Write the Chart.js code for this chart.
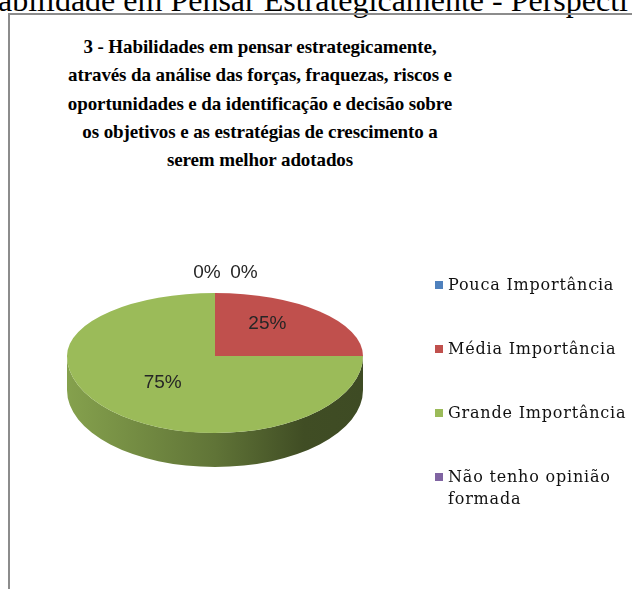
<!DOCTYPE html>
<html lang="pt">
<head>
<meta charset="UTF-8">
<title>Habilidades em pensar estrategicamente</title>
<style>
  html, body { margin: 0; padding: 0; background: #fff; }
  body { width: 632px; height: 589px; overflow: hidden; position: relative; }
  .heading {
    position: absolute; left: -2px; top: -16px; white-space: nowrap;
    font: 32px/32px "Liberation Serif", serif; color: #000;
  }
  .frame {
    position: absolute; left: 8px; top: 13px; width: 700px; height: 700px;
    border-left: 2px solid #8c8c8c; border-top: 2px solid #8c8c8c;
  }
  .title {
    position: absolute; left: 40px; width: 440px; top: 33px; text-align: center;
    font: bold 19px/28.35px "Liberation Serif", serif; color: #000;
    letter-spacing: -0.1px;
  }
  #myChart { position: absolute; left: 0; top: 0; }
  .legend { position: absolute; left: 435px; top: 274px; }
  .legend .item { display: flex; align-items: flex-start; margin-bottom: 42px; }
  .legend .box { width: 8px; height: 8px; margin: 7px 5px 0 0; flex: none; }
  .legend .text {
    font: 16px/22px "DejaVu Serif", serif; color: #111; width: 188px;
    letter-spacing: 0.8px;
  }
</style>
</head>
<body>
<div class="heading">abilidade em Pensar Estrategicamente - Perspecti</div>
<div class="frame"></div>
<div class="title" id="title"></div>
<canvas id="myChart" width="632" height="589"></canvas>
<div class="legend" id="legend"></div>

<script src="https://cdn.jsdelivr.net/npm/chart.js"></script>
<script>
// data
const titleLines = [
  '3 - Habilidades em pensar estrategicamente,',
  'através da análise das forças, fraquezas, riscos e',
  'oportunidades e da identificação e decisão sobre',
  'os objetivos e as estratégias de crescimento a',
  'serem melhor adotados'
];
const categories = ['Pouca Importância', 'Média Importância', 'Grande Importância', 'Não tenho opinião formada'];
const values = [0, 25, 75, 0];
const colors = ['#4F81BD', '#C0504D', '#9BBB59', '#8064A2'];

// 3d look
const TILT_TOP = 63 / 148;
const TILT_BOTTOM = 77 / 148;
const DEPTH = 34;

document.getElementById('title').innerHTML = titleLines.join('<br>');

const legend = document.getElementById('legend');
categories.forEach((c, i) => {
  const item = document.createElement('div');
  item.className = 'item';
  item.innerHTML = '<span class="box" style="background:' + colors[i] + '"></span><span class="text">' + c + '</span>';
  legend.appendChild(item);
});

function shade(hex, f) {
  const n = parseInt(hex.slice(1), 16);
  const r = Math.round(((n >> 16) & 255) * f);
  const g = Math.round(((n >> 8) & 255) * f);
  const b = Math.round((n & 255) * f);
  return 'rgb(' + r + ',' + g + ',' + b + ')';
}

const pie3d = {
  id: 'pie3d',
  beforeDatasetsDraw(chart) {
    const ctx = chart.ctx;
    const arcs = chart.getDatasetMeta(0).data;
    const {x: cx, y: cy, outerRadius: r} = arcs[0].getProps(['x', 'y', 'outerRadius'], true);
    const ryBot = r * TILT_BOTTOM;

    // side wall, front half only
    arcs.forEach((arc, i) => {
      const {startAngle, endAngle} = arc.getProps(['startAngle', 'endAngle'], true);
      const base = colors[i];
      for (const k of [-1, 0, 1]) {
        const off = 2 * Math.PI * k;
        const a0 = Math.max(startAngle, off);
        const a1 = Math.min(endAngle, Math.PI + off);
        if (a1 <= a0) continue;
        const g = ctx.createLinearGradient(cx - r, 0, cx + r, 0);
        g.addColorStop(0, shade(base, 0.86));
        g.addColorStop(0.5, shade(base, 0.62));
        g.addColorStop(0.8, shade(base, 0.41));
        g.addColorStop(1, shade(base, 0.40));
        ctx.save();
        ctx.fillStyle = g;
        ctx.beginPath();
        ctx.ellipse(cx, cy, r, ryBot, 0, a0 - off, a1 - off);
        ctx.ellipse(cx, cy + DEPTH, r, ryBot, 0, a1 - off, a0 - off, true);
        ctx.closePath();
        ctx.fill();
        ctx.restore();
      }
    });

    // top face, squashed; back half flatter than front half
    [[0, cy + 0.5, TILT_TOP], [cy, chart.height, TILT_BOTTOM]].forEach(([y0, y1, s]) => {
      ctx.save();
      ctx.beginPath();
      ctx.rect(0, y0, chart.width, y1 - y0);
      ctx.clip();
      ctx.translate(cx, cy);
      ctx.scale(1, s);
      ctx.translate(-cx, -cy);
      arcs.forEach(a => a.draw(ctx));
      ctx.restore();
    });

    // percentage labels
    const total = values.reduce((a, b) => a + b, 0);
    ctx.save();
    ctx.font = '19px "Liberation Sans", sans-serif';
    ctx.fillStyle = '#262626';
    ctx.textAlign = 'center';
    ctx.textBaseline = 'middle';
    let zeros = 0;
    arcs.forEach((arc, i) => {
      const txt = Math.round(values[i] / total * 100) + '%';
      if (values[i] > 0) {
        const p = arc.tooltipPosition(true);
        const dy = p.y - cy;
        const y = dy < 0 ? cy + dy * TILT_TOP * 1.45 : cy + dy * TILT_BOTTOM;
        ctx.fillText(txt, p.x, y);
      } else {
        const a = arc.getProps(['startAngle'], true).startAngle;
        const px = cx + r * Math.cos(a);
        const py = cy + r * Math.sin(a) * (Math.sin(a) < 0 ? TILT_TOP : TILT_BOTTOM);
        ctx.fillText(txt, px + (zeros === 0 ? -8 : 29), py - 20);
        zeros++;
      }
    });
    ctx.restore();
    return false;
  }
};

new Chart(document.getElementById('myChart').getContext('2d'), {
  type: 'pie',
  data: {
    labels: categories,
    datasets: [{
      data: values,
      backgroundColor: colors,
      borderWidth: 0
    }]
  },
  plugins: [pie3d],
  options: {
    responsive: false,
    animation: false,
    layout: { padding: { left: 67, right: 269, top: 208, bottom: 85 } },
    plugins: {
      legend: { display: false },
      tooltip: { enabled: false },
      title: { display: false }
    }
  }
});
</script>
</body>
</html>
